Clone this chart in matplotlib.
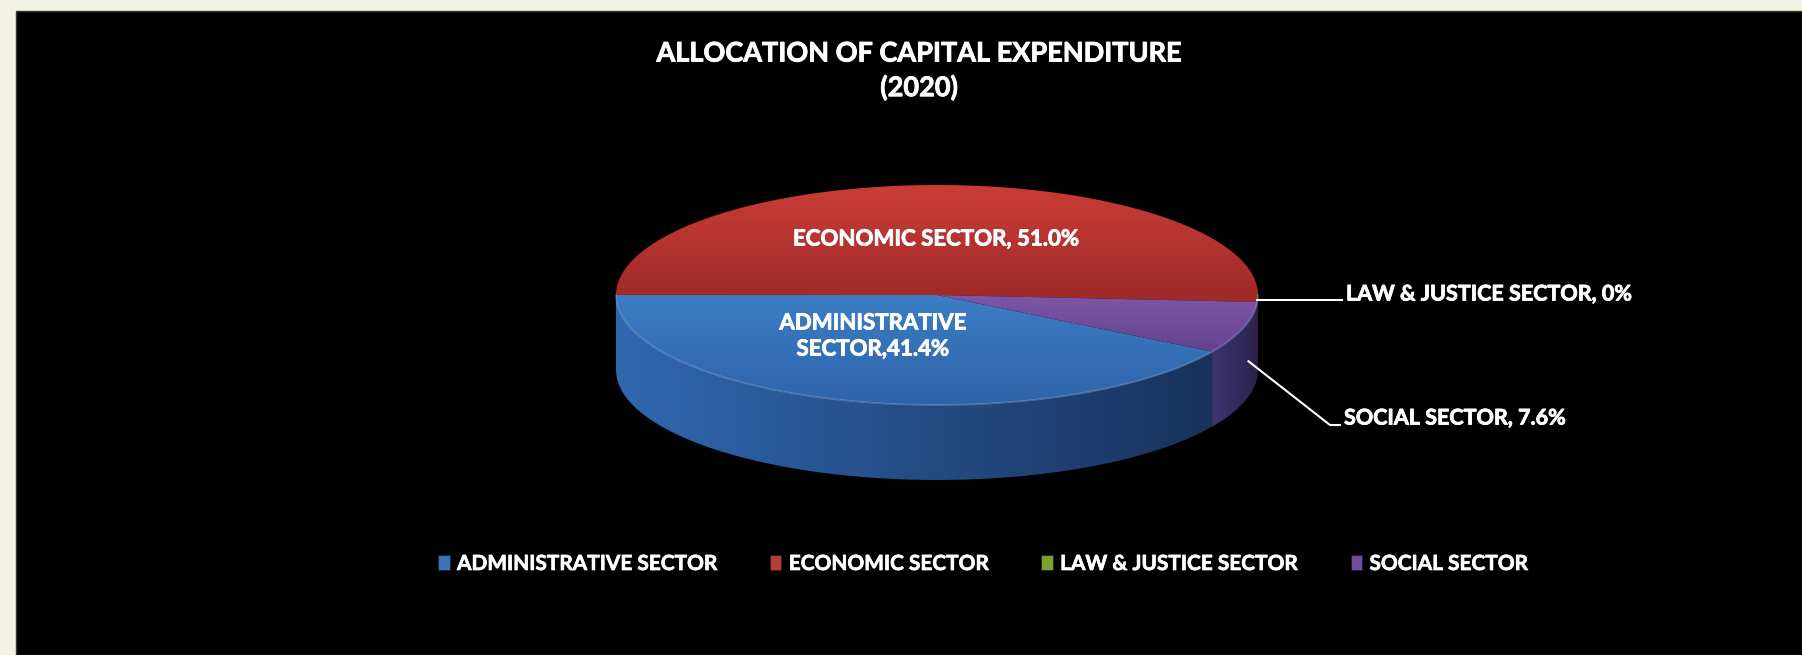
import numpy as np
import matplotlib.pyplot as plt
import matplotlib.colors as mcolors
import matplotlib.patheffects as pe
from matplotlib.patches import Polygon, Rectangle, Patch

plt.rcParams['font.family'] = ['Lato', 'DejaVu Sans']
plt.rcParams['font.weight'] = 'bold'

# data
sectors = ['ADMINISTRATIVE SECTOR', 'ECONOMIC SECTOR', 'LAW & JUSTICE SECTOR', 'SOCIAL SECTOR']
shares = [41.4, 51.0, 0.0, 7.6]
data_labels = ['ADMINISTRATIVE\nSECTOR,41.4%', 'ECONOMIC SECTOR, 51.0%',
               'LAW & JUSTICE SECTOR, 0%', 'SOCIAL SECTOR, 7.6%']
title = 'ALLOCATION OF CAPITAL EXPENDITURE\n(2020)'

# colours: top face (light, dark), side wall (light, dark), legend key
top_cols = [('#3c7ec4', '#2e63a9'), ('#cb3c36', '#9e2a28'),
            ('#86a83a', '#6a8a2a'), ('#7e56a8', '#62438f')]
side_cols = [('#3068b0', '#19325c'), ('#8a2422', '#5e1818'),
             ('#5a7424', '#3e521a'), ('#3e3570', '#2a234e')]
legend_cols = ['#3a72ba', '#bb3a35', '#7e9e34', '#6f4c9e']

W, H = 1802, 655
cx, cy = 937, 295          # centre of top ellipse (pixels)
rx, ry = 321, 110
depth = 75
first_angle = 31           # degrees clockwise from 3 o'clock

bold = [pe.withStroke(linewidth=0.6, foreground='white')]

fig = plt.figure(figsize=(W / 100, H / 100), dpi=100, facecolor='#f3f3e3')
ax = fig.add_axes([0, 0, 1, 1])
ax.axis('off')
ax.add_patch(Rectangle((16, 11), W - 16, H - 11, facecolor='black',
                       edgecolor='#3a3a3a', lw=1, zorder=0))


def gradient_fill(verts, c0, c1, horizontal=False, z=2):
    poly = Polygon(verts, closed=True, facecolor='none', edgecolor='none', zorder=z)
    ax.add_patch(poly)
    x0, y0 = verts.min(axis=0)
    x1, y1 = verts.max(axis=0)
    t = np.linspace(0, 1, 256)[:, None]
    a = np.array(mcolors.to_rgb(c0))
    b = np.array(mcolors.to_rgb(c1))
    g = a + (b - a) * t
    img = g[None, :, :] if horizontal else g[:, None, :]
    im = ax.imshow(img, extent=(x0, x1, y1, y0), origin='upper', aspect='auto',
                   interpolation='bilinear', zorder=z)
    im.set_clip_path(poly)


def rim(phi, dz=0):
    r = np.radians(phi)
    return np.column_stack([cx + rx * np.cos(r), cy + ry * np.sin(r) + dz])


bounds = first_angle + 360 * np.concatenate([[0], np.cumsum(shares)]) / sum(shares)

# side walls (front half only: 0..180 and 360..540)
for i in range(len(shares)):
    t0, t1 = bounds[i], bounds[i + 1]
    for lo, hi in [(0, 180), (360, 540)]:
        a0, a1 = max(t0, lo), min(t1, hi)
        if a1 - a0 <= 0.05:
            continue
        phi = np.linspace(a0, a1, 120)
        verts = np.vstack([rim(phi), rim(phi[::-1], depth)])
        gradient_fill(verts, side_cols[i][0], side_cols[i][1], horizontal=True, z=2)

# top faces
for i in range(len(shares)):
    t0, t1 = bounds[i], bounds[i + 1]
    if t1 - t0 <= 0.05:
        continue
    phi = np.linspace(t0, t1, 200)
    verts = np.vstack([[cx, cy], rim(phi)])
    gradient_fill(verts, top_cols[i][0], top_cols[i][1], z=3)

# soft highlight on the front rim of the top face
front = rim(np.linspace(0, 180, 200))
ax.plot(front[:, 0], front[:, 1], color='#9fc0ea', alpha=0.35, lw=1.3, zorder=4)

# data labels on the pie
ax.text(936, 239, data_labels[1], color='white', fontsize=16, fontweight='bold',
        ha='center', va='center', zorder=5, path_effects=bold)
ax.text(873, 336, data_labels[0], color='white', fontsize=16, fontweight='bold',
        ha='center', va='center', linespacing=1.3, zorder=5, path_effects=bold)

# leader labels for the thin slices
law_mid = rim([(bounds[2] + bounds[3]) / 2])[0]
ax.plot([law_mid[0], 1342], [law_mid[1] - 2, law_mid[1] - 2], color='white', lw=1.5, zorder=5)
ax.text(1346, law_mid[1] - 8, data_labels[2], color='white', fontsize=15.5,
        fontweight='bold', ha='left', va='center', zorder=5, path_effects=bold)

soc_mid = rim([(bounds[3] + bounds[4]) / 2], depth / 2)[0]
ax.plot([soc_mid[0] + 5, 1330, 1340], [soc_mid[1] - 4, 425, 425], color='white', lw=1.5, zorder=5)
ax.text(1344, 418, data_labels[3], color='white', fontsize=15.5,
        fontweight='bold', ha='left', va='center', zorder=5, path_effects=bold)

# title
ax.text(919, 71, title, color='white', fontsize=19.5, fontweight='bold',
        ha='center', va='center', linespacing=1.45, path_effects=bold)

# legend
handles = [Patch(facecolor=c, edgecolor='#1a1a1a', lw=0.5) for c in legend_cols]
leg = fig.legend(handles, sectors, loc='center', bbox_to_anchor=(983 / W, 1 - 564 / H),
                 ncol=4, frameon=False, handlelength=0.55,
                 handleheight=0.7, handletextpad=0.35, columnspacing=2.55,
                 prop={'weight': 'bold', 'size': 15})
for t in leg.get_texts():
    t.set_color('white')
    t.set_path_effects([pe.withStroke(linewidth=0.5, foreground='white')])

ax.set_xlim(0, W)
ax.set_ylim(H, 0)
fig.savefig('out.png', dpi=100, facecolor=fig.get_facecolor())
